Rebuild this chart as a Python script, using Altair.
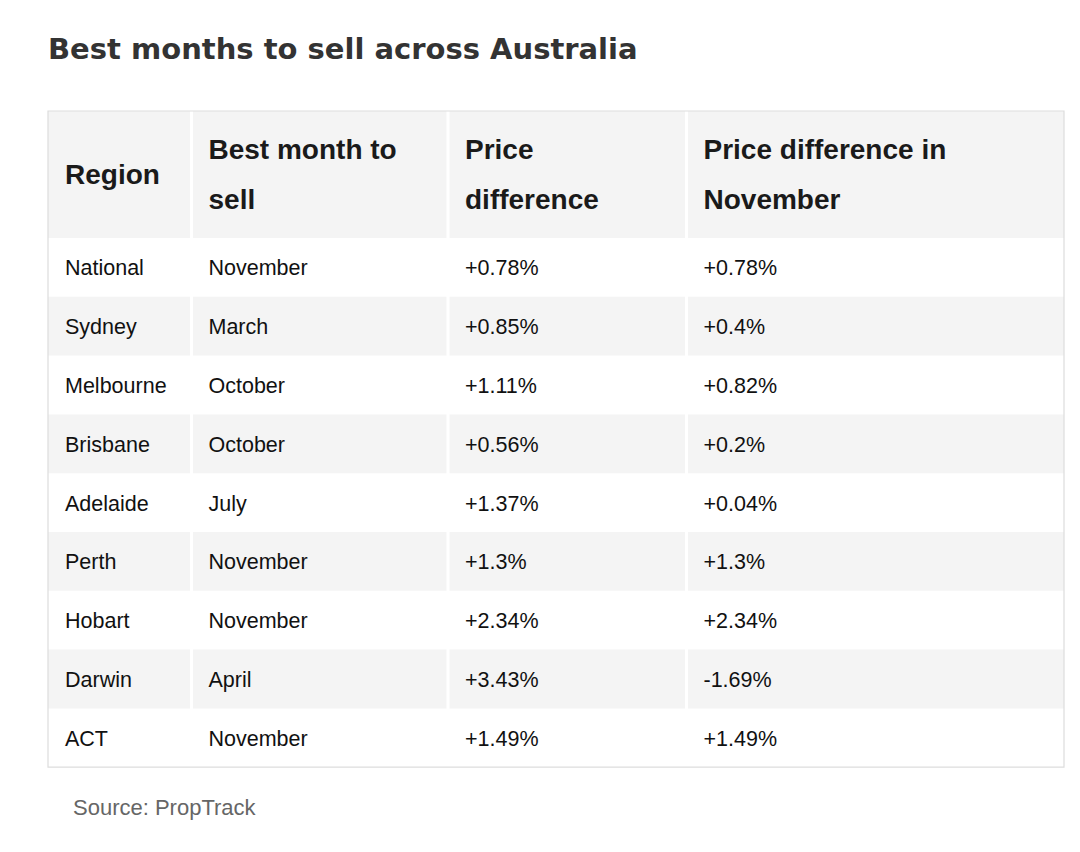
import altair as alt
import pandas as pd

# ---- data ----
regions = ["National", "Sydney", "Melbourne", "Brisbane", "Adelaide", "Perth", "Hobart", "Darwin", "ACT"]
best_month = ["November", "March", "October", "October", "July", "November", "November", "April", "November"]
price_diff = ["+0.78%", "+0.85%", "+1.11%", "+0.56%", "+1.37%", "+1.3%", "+2.34%", "+3.43%", "+1.49%"]
price_diff_nov = ["+0.78%", "+0.4%", "+0.82%", "+0.2%", "+0.04%", "+1.3%", "+2.34%", "-1.69%", "+1.49%"]
header_lines = [["Region"], ["Best month to", "sell"], ["Price", "difference"], ["Price difference in", "November"]]
title_text = "Best months to sell across Australia"
source_text = "Source: PropTrack"

# ---- layout (page pixel units) ----
W, H = 1064, 836
col_left = [48, 191.5, 448, 686.5]
table_right = 1064
table_top = 111
header_bottom = 238
row_h = 58.8
pad = 17
sep_x = [191.5, 448, 686.5]

n = len(regions)
table_bottom = header_bottom + row_h * n

xs = alt.Scale(domain=[8, 8 + W], range=[0, W])
ys = alt.Scale(domain=[8, 8 + H], range=[0, H])

def X(f, **kw):
    return alt.X(f, type="quantitative", scale=xs, axis=None, **kw)

def Y(f, **kw):
    return alt.Y(f, type="quantitative", scale=ys, axis=None, **kw)

# backgrounds
bg_rows = [{"x": 48, "x2": table_right, "y": table_top, "y2": header_bottom}]
for i in range(n):
    if i % 2 == 1:
        bg_rows.append({"x": 48, "x2": table_right,
                        "y": header_bottom + row_h * i, "y2": header_bottom + row_h * (i + 1)})
bg = alt.Chart(pd.DataFrame(bg_rows)).mark_rect(color="#f4f4f4").encode(
    x=X("x"), x2="x2", y=Y("y"), y2="y2")

seps = alt.Chart(pd.DataFrame({"x": sep_x, "y": [table_top] * 3, "y2": [table_bottom] * 3})).mark_rule(
    color="#ffffff", strokeWidth=3).encode(x=X("x"), y=Y("y"), y2="y2")

border = alt.Chart(pd.DataFrame([{"x": 48, "x2": table_right, "y": table_top, "y2": table_bottom}])).mark_rect(
    fill="transparent", stroke="#dddddd", strokeWidth=1.2).encode(x=X("x"), x2="x2", y=Y("y"), y2="y2")

# header text
hdr = []
hc = (table_top + header_bottom) / 2 + 1
lh = 50
for c, lines in enumerate(header_lines):
    k = len(lines)
    for j, t in enumerate(lines):
        hdr.append({"x": col_left[c] + pad, "y": hc + (j - (k - 1) / 2) * lh, "t": t})
hdr_text = alt.Chart(pd.DataFrame(hdr)).mark_text(
    align="left", baseline="middle", font="Liberation Sans", fontWeight="bold",
    fontSize=28, color="#1a1a1a").encode(x=X("x"), y=Y("y"), text="t:N")

# body text
cells = []
cols = [regions, best_month, price_diff, price_diff_nov]
for c, vals in enumerate(cols):
    for i, v in enumerate(vals):
        cells.append({"x": col_left[c] + pad, "y": header_bottom + row_h * (i + 0.5) + 2, "t": v})
body_text = alt.Chart(pd.DataFrame(cells)).mark_text(
    align="left", baseline="middle", font="Liberation Sans", fontSize=21.5,
    color="#111111").encode(x=X("x"), y=Y("y"), text="t:N")

title = alt.Chart(pd.DataFrame([{"x": 48, "y": 58.5, "t": title_text}])).mark_text(
    align="left", baseline="alphabetic", font="DejaVu Sans", fontWeight="bold", fontSize=29,
    color="#333333").encode(x=X("x"), y=Y("y"), text="t:N")

source = alt.Chart(pd.DataFrame([{"x": 73, "y": 808, "t": source_text}])).mark_text(
    align="left", baseline="middle", font="Liberation Sans", fontSize=22,
    color="#666666").encode(x=X("x"), y=Y("y"), text="t:N")

chart = alt.layer(bg, seps, border, hdr_text, body_text, title, source).properties(
    width=W, height=H, autosize=alt.AutoSizeParams(type="none"), padding=0,
    background="#ffffff",
).configure_view(strokeWidth=0, stroke="transparent")

chart.save("out.html", embed_options={"renderer": "svg", "actions": False})
